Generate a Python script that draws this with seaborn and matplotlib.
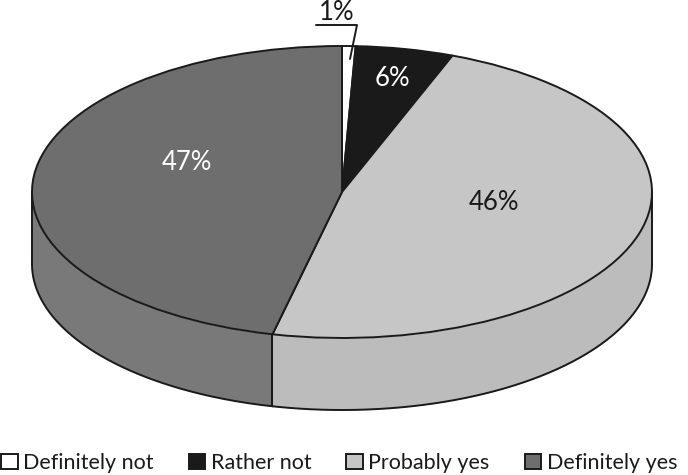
import numpy as np
import matplotlib
matplotlib.use('Agg')
import matplotlib.pyplot as plt
from matplotlib.lines import Line2D
import seaborn as sns

# shares as measured from the slice edges, labels as printed
categories = ['Definitely not', 'Rather not', 'Probably yes', 'Definitely yes']
shares = [0.7, 5.1, 47.8, 46.4]
labels = ['1%', '6%', '46%', '47%']

top_colors = ['#ffffff', '#1a1a1a', '#c6c6c6', '#6e6e6e']
side_colors = ['#ffffff', '#1a1a1a', '#bcbcbc', '#797979']
label_colors = ['#1a1a1a', '#ffffff', '#1a1a1a', '#ffffff']
label_pos = [(337, 12), (392, 79), (494, 202), (187, 162)]

W, H = 688, 475
CX, CY, RX, RY = 342, 192, 310, 146
DEPTH = 72 / RY
EDGE = '#1a1a1a'

sns.set_theme(style='white')
plt.rcParams['font.family'] = ['Lato', 'DejaVu Sans']


def fig_xy(x, y):
    return x / W, 1 - y / H


fig = plt.figure(figsize=(W / 100, H / 100), dpi=100)
ax = fig.add_axes([0, 0, 1, 1])

wedges, _ = ax.pie(shares, colors=top_colors, startangle=90, counterclock=False,
                   wedgeprops={'edgecolor': EDGE, 'linewidth': 1.4, 'zorder': 3})
# stretch the round pie to an ellipse
ax.set_aspect('auto')
ax.set_xlim(-CX / RX, (W - CX) / RX)
ax.set_ylim(-(H - CY) / RY, CY / RY)

# side wall, only the front half shows
edges = np.cumsum([0] + shares) / sum(shares) * 360
for i in range(len(shares)):
    a = max(edges[i], 90)
    b = min(edges[i + 1], 270)
    if a >= b:
        continue
    t = np.radians(np.linspace(a, b, 200))
    x = np.sin(t)
    y = np.cos(t)
    ax.fill_between(x, y, y - DEPTH, color=side_colors[i], linewidth=0, zorder=1)
    ax.plot(x, y - DEPTH, color=EDGE, lw=1.4, zorder=2)
    for end in (a, b):
        r = np.radians(end)
        ax.plot([np.sin(r)] * 2, [np.cos(r), np.cos(r) - DEPTH], color=EDGE, lw=1.4, zorder=2)

for lab, col, (px, py) in zip(labels, label_colors, label_pos):
    fx, fy = fig_xy(px, py)
    fig.text(fx, fy, lab, color=col, fontsize=18.5, ha='center', va='center')

# leader line for the 1% slice
lx, ly = zip(*[fig_xy(316, 25), fig_xy(357, 25), fig_xy(350, 59)])
fig.add_artist(Line2D(lx, ly, color=EDGE, lw=1.4, zorder=5))

fig.legend(wedges, categories, loc='lower left', bbox_to_anchor=fig_xy(1, 473), ncol=4,
           frameon=False, fontsize=15.5, labelcolor=EDGE, borderpad=0, borderaxespad=0,
           columnspacing=1.62, handlelength=0.77, handleheight=0.72, handletextpad=0.26)

fig.savefig('out.png', dpi=100)
